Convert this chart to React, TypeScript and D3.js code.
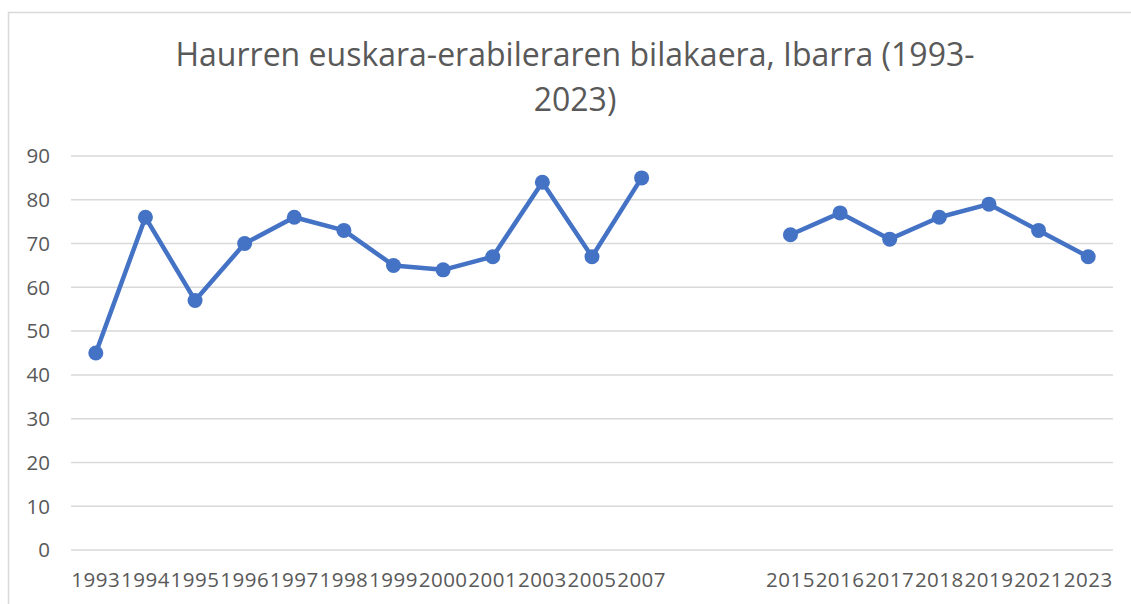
import React from 'react';
import * as d3 from 'd3';

// Survey years; the two blanks keep Excel's empty gap between 2007 and 2015
const years = ['1993', '1994', '1995', '1996', '1997', '1998', '1999', '2000', '2001', '2003', '2005', '2007', '', ' ', '2015', '2016', '2017', '2018', '2019', '2021', '2023'];
const usage = [45, 76, 57, 70, 76, 73, 65, 64, 67, 84, 67, 85, null, null, 72, 77, 71, 76, 79, 73, 67];
const yTicks = [0, 10, 20, 30, 40, 50, 60, 70, 80, 90];
const titleLines = ['Haurren euskara-erabileraren bilakaera, Ibarra (1993-', '2023)'];

const W = 1131;
const H = 604;
const margin = { top: 156, right: 18, bottom: 54, left: 71 };

const App = () => {
    const x = d3.scaleBand<number>()
        .domain(d3.range(years.length))
        .range([margin.left, W - margin.right]);
    const y = d3.scaleLinear()
        .domain([0, 90])
        .range([H - margin.bottom, margin.top]);

    const cx = (i: number) => (x(i) as number) + x.bandwidth() / 2;

    const line = d3.line<number | null>()
        .defined(d => d !== null)
        .x((_, i) => cx(i))
        .y(d => y(d as number));

    const font = '"Open Sans", sans-serif';

    return (
        <svg width={W} height={H} style={{ position: 'absolute', left: 0, top: 0, background: '#fff' }}>
            {/* chart frame */}
            <path d={`M8.5,${H} V12.5 H${W}`} fill="none" stroke="#d9d9d9" strokeWidth={1.5} />

            {titleLines.map((t, i) => (
                <text key={i} x={575} y={66 + i * 45} textAnchor="middle" fontFamily={font} fontSize={32} fill="#595959">{t}</text>
            ))}

            {yTicks.map(t => (
                <g key={t}>
                    <line x1={margin.left} x2={W - margin.right} y1={y(t)} y2={y(t)} stroke="#d9d9d9" strokeWidth={1.5} />
                    <text x={50} y={y(t)} dy="0.36em" textAnchor="end" fontFamily={font} fontSize={20.5} fill="#595959">{t}</text>
                </g>
            ))}

            {years.map((yr, i) => (
                <text key={i} x={cx(i)} y={587} textAnchor="middle" fontFamily={font} fontSize={20.5} letterSpacing={0.5} fill="#595959">{yr.trim()}</text>
            ))}

            <path d={line(usage) ?? ''} fill="none" stroke="#4472c4" strokeWidth={4.5} strokeLinejoin="round" />
            {usage.map((v, i) => v === null ? null : (
                <circle key={i} cx={cx(i)} cy={y(v)} r={7.5} fill="#4472c4" />
            ))}
        </svg>
    );
};

export default App;
